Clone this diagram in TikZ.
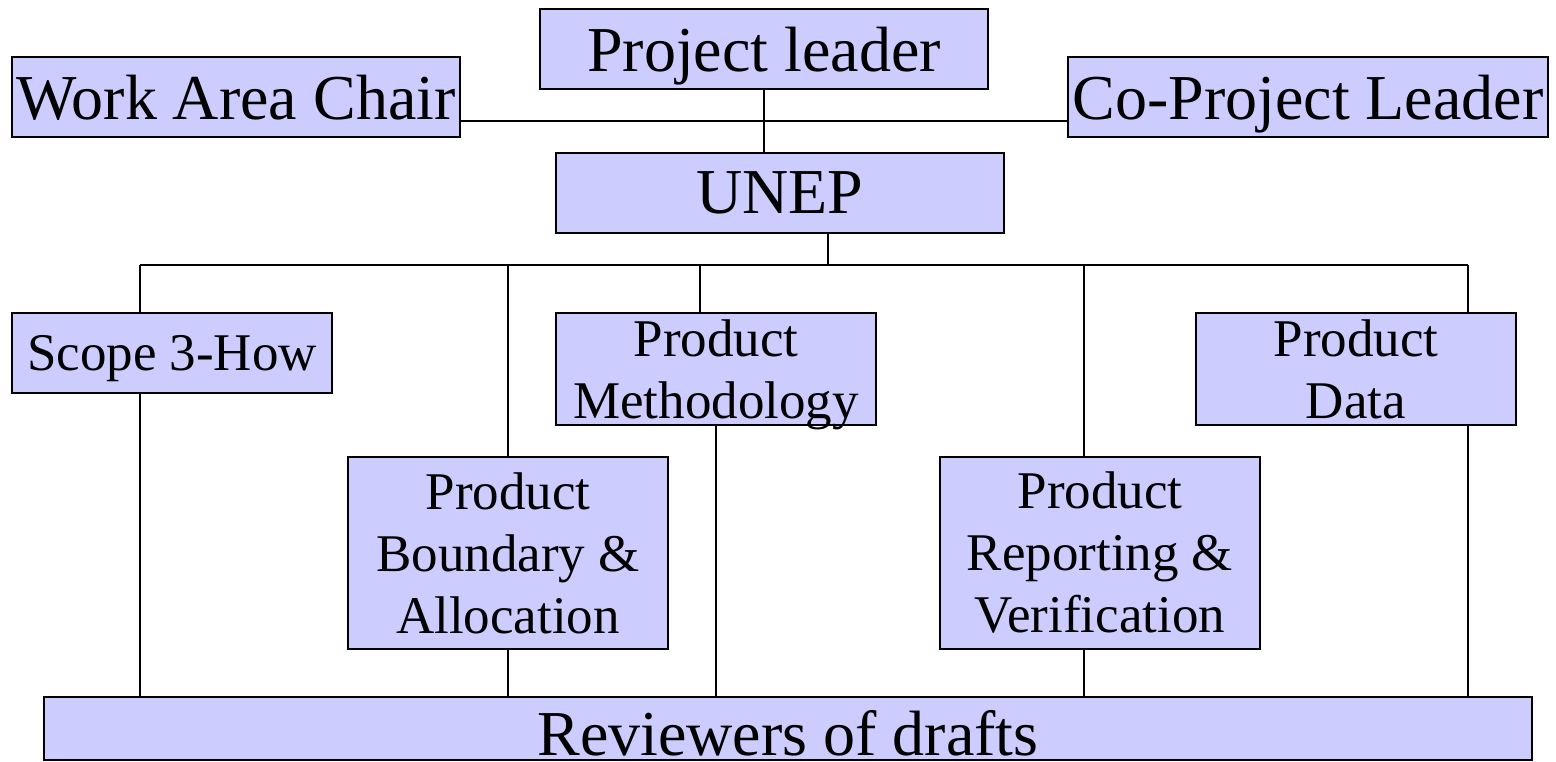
\documentclass[tikz,border=0pt]{standalone}
\usepackage{fontspec}
\setmainfont{Liberation Serif}
\usetikzlibrary{positioning,calc}
\definecolor{boxfill}{RGB}{204,204,255}
\tikzset{
block/.style = {draw, fill=boxfill, rectangle, line width=2pt, inner sep=0pt, align=center},
big/.style   = {block, minimum height=80pt, text depth=0pt, font=\fontsize{64}{77}\selectfont},
small/.style = {block, minimum width=320pt, font=\fontsize{53}{62}\selectfont},
tmp/.style   = {coordinate},
link/.style  = {line width=2pt}
}

\begin{document}
\begin{tikzpicture}[x=1pt, y=-1pt]
  \useasboundingbox (0,0) rectangle (1556,761);
  \node [big, minimum width=448pt]                       (lead)    at (764,49)    {Project leader};
  \node [big, minimum width=448pt]                       (chair)   at (236,97)    {Work Area Chair};
  \node [big, minimum width=480pt]                       (colead)  at (1308,97)   {Co-Project Leader};
  \node [big, minimum width=448pt]                       (unep)    at (780,193)   {UNEP};
  \node [small, minimum height=80pt, text depth=0pt]     (scope)   at (172,353)   {Scope 3-How};
  \node [small, minimum height=112pt, text depth=0pt]    (method)  at (716,369)   {Product\\Methodology};
  \node [small, minimum height=112pt]                    (data)    at (1356,369)  {Product\\Data};
  \node [small, minimum height=192pt]                    (bound)   at (508,553)   {Product\\Boundary \&\\Allocation};
  \node [small, minimum height=192pt]                    (report)  at (1100,553)  {Product\\Reporting \&\\Verification};
  \node [big, minimum width=1488pt, minimum height=63pt, text height=53pt] (review) at (788,728.5) {Reviewers of drafts};

  \node [tmp] (hbar) at (764,121)  {};
  \node [tmp] (ubus) at (828,265)  {};
  \node [tmp] (busl) at (140,265)  {};
  \node [tmp] (busr) at (1468,265) {};
  \node [tmp] (mtap) at (700,265)  {};
  \node [tmp] (rtap) at (1084,265) {};

  \draw [link] (chair.east |- hbar) -- (colead.west |- hbar);
  \draw [link] (lead.south) -- (lead.south |- unep.north);
  \draw [link] (ubus |- unep.south) -- (ubus);
  \draw [link] (busl) -- (busr);
  \draw [link] (busl) -- (busl |- scope.north);
  \draw [link] (bound.north |- busl) -- (bound.north);
  \draw [link] (mtap) -- (mtap |- method.north);
  \draw [link] (rtap) -- (rtap |- report.north);
  \draw [link] (busr) -- (busr |- data.north);
  \draw [link] (busl |- scope.south) -- (busl |- review.north);
  \draw [link] (bound.south) -- (bound.south |- review.north);
  \draw [link] (method.south) -- (method.south |- review.north);
  \draw [link] (rtap |- report.south) -- (rtap |- review.north);
  \draw [link] (busr |- data.south) -- (busr |- review.north);
\end{tikzpicture}
\end{document}
